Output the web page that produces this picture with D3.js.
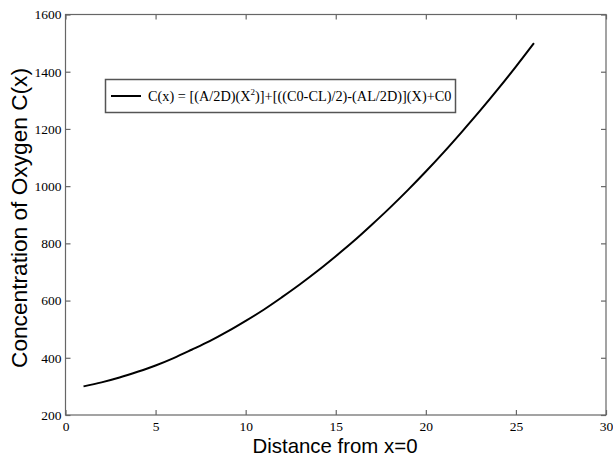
<!DOCTYPE html>
<html>
<head>
<meta charset="utf-8">
<script src="https://cdn.jsdelivr.net/npm/d3@7"></script>
<style>
  body { margin: 0; background: #fff; }
  svg { display: block; }
</style>
</head>
<body>
<svg id="chart" width="613" height="458"></svg>
<script>
// distance from x=0
var distance = [1, 2, 3, 4, 5, 6, 7, 8, 9, 10, 11, 12, 13, 14, 15, 16, 17, 18, 19, 20, 21, 22, 23, 24, 25, 26];
// concentration of oxygen C(x)
var concentration = [300, 314, 331, 351, 373, 399, 428, 458, 492, 529, 568, 611, 656, 704, 755,
                     808, 865, 924, 986, 1051, 1119, 1190, 1263, 1339, 1418, 1500];
var xTicks = [0, 5, 10, 15, 20, 25, 30];
var yTicks = [200, 400, 600, 800, 1000, 1200, 1400, 1600];

var svg = d3.select('#chart'),
    plotLeft = 65.5, plotRight = 606, plotTop = 14.5, plotBottom = 415;

var x = d3.scaleLinear().domain([0, 30]).range([plotLeft, plotRight]);
var y = d3.scaleLinear().domain([200, 1600]).range([plotBottom, plotTop]);

// frame
svg.append('rect')
  .attr('x', plotLeft).attr('y', plotTop)
  .attr('width', plotRight - plotLeft).attr('height', plotBottom - plotTop)
  .attr('fill', 'none').attr('stroke', '#666').attr('stroke-width', 1.2);

// axes, ticks inward like matlab
var gx = svg.append('g').attr('transform', 'translate(0,' + plotBottom + ')')
  .call(d3.axisBottom(x).tickValues(xTicks).tickSizeInner(-5).tickSizeOuter(0).tickPadding(6));
var gxTop = svg.append('g').attr('transform', 'translate(0,' + plotTop + ')')
  .call(d3.axisTop(x).tickValues(xTicks).tickSizeInner(-5).tickSizeOuter(0).tickFormat(''));
var gy = svg.append('g').attr('transform', 'translate(' + plotLeft + ',0)')
  .call(d3.axisLeft(y).tickValues(yTicks).tickSizeInner(-5).tickSizeOuter(0).tickPadding(4).tickFormat(d3.format('d')));
var gyRight = svg.append('g').attr('transform', 'translate(' + plotRight + ',0)')
  .call(d3.axisRight(y).tickValues(yTicks).tickSizeInner(-5).tickSizeOuter(0).tickFormat(''));

[gx, gxTop, gy, gyRight].forEach(function(g) {
  g.select('.domain').remove();
  g.selectAll('.tick line').attr('stroke', '#666').attr('stroke-width', 1.2);
  g.selectAll('.tick text')
    .attr('font-family', '"Liberation Serif", "Times New Roman", serif')
    .attr('font-size', 13.5)
    .attr('fill', '#000');
});

// curve
var line = d3.line()
  .x(function(d, i) { return x(distance[i]); })
  .y(function(d) { return y(d); })
  .curve(d3.curveMonotoneX);

svg.append('path')
  .datum(concentration)
  .attr('d', line)
  .attr('fill', 'none')
  .attr('stroke', '#000')
  .attr('stroke-width', 2);

// axis titles
svg.append('text')
  .attr('x', 335).attr('y', 453)
  .attr('text-anchor', 'middle')
  .attr('font-family', '"Liberation Sans", Arial, sans-serif')
  .attr('font-size', 21)
  .attr('textLength', 165)
  .attr('lengthAdjust', 'spacingAndGlyphs')
  .text('Distance from x=0');

svg.append('text')
  .attr('transform', 'translate(27,218) rotate(-90)')
  .attr('text-anchor', 'middle')
  .attr('font-family', '"Liberation Sans", Arial, sans-serif')
  .attr('font-size', 22)
  .attr('textLength', 300)
  .attr('lengthAdjust', 'spacingAndGlyphs')
  .text('Concentration of Oxygen C(x)');

// legend
var legend = svg.append('g');
legend.append('rect')
  .attr('x', 105.5).attr('y', 79.5).attr('width', 350).attr('height', 33)
  .attr('fill', '#fff').attr('stroke', '#555').attr('stroke-width', 1.5);
legend.append('line')
  .attr('x1', 111).attr('x2', 141).attr('y1', 96).attr('y2', 96)
  .attr('stroke', '#000').attr('stroke-width', 2);
var lt = legend.append('text')
  .attr('x', 148).attr('y', 101)
  .attr('font-family', '"Liberation Serif", "Times New Roman", serif')
  .attr('font-size', 14.3);
lt.append('tspan').text('C(x) = [(A/2D)(X');
lt.append('tspan').attr('font-size', 9).attr('dy', -6).text('2');
lt.append('tspan').attr('dy', 6).text(')]+[((C0-CL)/2)-(AL/2D)](X)+C0');
</script>
</body>
</html>
